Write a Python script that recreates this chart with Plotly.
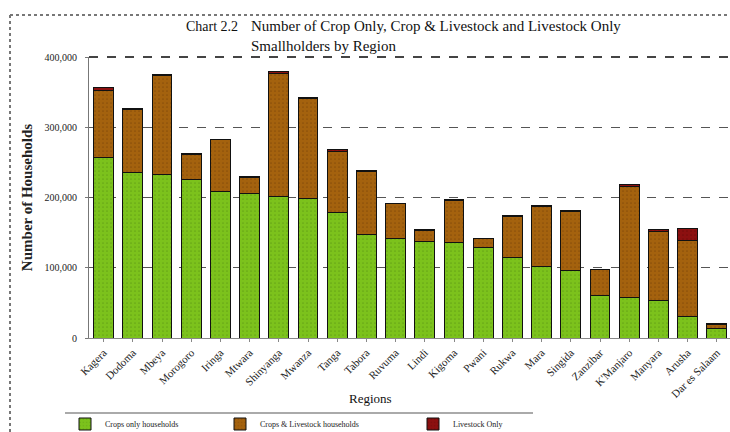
import plotly.graph_objects as go

regions = ["Kagera", "Dodoma", "Mbeya", "Morogoro", "Iringa", "Mtwara", "Shinyanga",
           "Mwanza", "Tanga", "Tabora", "Ruvuma", "Lindi", "Kigoma", "Pwani", "Rukwa",
           "Mara", "Singida", "Zanzibar", "K'Manjaro", "Manyara", "Arusha", "Dar es Salaam"]
crops_only = [257000, 235000, 233000, 226000, 208000, 205000, 202000, 199000, 179000, 148000,
              142000, 137000, 136000, 129000, 115000, 102000, 96000, 61000, 58000, 54000,
              30000, 14000]
crops_livestock = [96000, 90000, 141000, 35000, 74000, 24000, 175000, 142000, 87000, 89000,
                   49000, 16000, 60000, 12000, 58000, 85000, 84000, 36000, 158000, 98000,
                   109000, 5000]
livestock_only = [3000, 2000, 1000, 2000, 1000, 1000, 3000, 2000, 2000, 1000,
                  1000, 1000, 1000, 1000, 1000, 2000, 1000, 1000, 2000, 2000,
                  17000, 1000]
y_ticks = [0, 100000, 200000, 300000, 400000]
y_tick_labels = ["0", "100,000", "200,000", "300,000", "400,000"]

SERIF = "Liberation Serif, Times New Roman, serif"
W, H = 730, 432
L, R, T, B = 89, 0, 57, 94
PW, PH = W - L - R, H - T - B


def px(x):
    return (x - L) / PW


def py(y):
    return (H - B - y) / PH


fig = go.Figure()
series = [
    ("Crops only households", crops_only, "#7cc21c", "#4f8a10", "legend"),
    ("Crops & Livestock households", crops_livestock, "#a4620e", "#6e3c06", "legend2"),
    ("Livestock Only", livestock_only, "#8c1010", "#5a0808", "legend3"),
]
for name, vals, col, dot, leg in series:
    fig.add_trace(go.Bar(
        x=regions, y=vals, name=name, legend=leg,
        marker=dict(color=col, line=dict(color="#111111", width=1),
                    pattern=dict(shape=".", fgcolor=dot, size=4, solidity=0.15)),
    ))

leg_common = dict(orientation="h", xanchor="left", yanchor="middle",
                  font=dict(size=8), itemwidth=30, bgcolor="rgba(0,0,0,0)")
fig.update_layout(
    width=W, height=H,
    margin=dict(l=L, r=R, t=T, b=B, autoexpand=False),
    barmode="stack", bargap=0.32,
    plot_bgcolor="white", paper_bgcolor="white",
    font=dict(family=SERIF, size=10, color="#222222"),
    xaxis=dict(range=[-0.5, 21.45], tickangle=-45, showgrid=False, automargin=False,
               showline=True, linecolor="#888888", ticks="outside", ticklen=3,
               tickcolor="#888888", tickfont=dict(size=11)),
    yaxis=dict(range=[0, 400000], tickvals=y_ticks, ticktext=y_tick_labels, automargin=False,
               showgrid=True, gridcolor="#555555", griddash="dash", gridwidth=1,
               showline=True, linecolor="#777777", ticks="outside", ticklen=3,
               tickcolor="#777777", tickfont=dict(size=10), zeroline=False,
               ticklabelstandoff=6,
               title=dict(text="<b>Number of Households</b>", font=dict(size=15), standoff=8)),
    showlegend=True,
    legend=dict(x=px(65), y=py(424), **leg_common),
    legend2=dict(x=px(220), y=py(424), **leg_common),
    legend3=dict(x=px(413), y=py(424), **leg_common),
)

# title
fig.add_annotation(text="Chart 2.2", x=px(184), y=py(27), xref="paper", yref="paper",
                   xanchor="left", yanchor="middle", showarrow=False,
                   font=dict(size=14, family=SERIF, color="#111111"))
fig.add_annotation(text="Number of Crop Only, Crop &amp; Livestock and Livestock Only<br>Smallholders by Region",
                   x=px(249), y=py(36), xref="paper", yref="paper", align="left",
                   xanchor="left", yanchor="middle", showarrow=False,
                   font=dict(size=15, family=SERIF, color="#111111"))
# x axis title
fig.add_annotation(text="Regions", x=px(370), y=py(398), xref="paper", yref="paper",
                   xanchor="center", yanchor="middle", showarrow=False,
                   font=dict(size=13, family=SERIF, color="#111111"))

# outer dotted frame and legend separator
fig.add_shape(type="line", xref="paper", yref="paper", x0=px(10), x1=px(10), y0=py(15), y1=py(432),
              line=dict(color="#777777", width=2, dash="dot"))
fig.add_shape(type="line", xref="paper", yref="paper", x0=px(10), x1=px(730), y0=py(15), y1=py(15),
              line=dict(color="#777777", width=2, dash="dot"))
fig.add_shape(type="line", xref="paper", yref="paper", x0=px(65), x1=px(533), y0=py(413), y1=py(413),
              line=dict(color="#aaaaaa", width=2))
fig.add_shape(type="line", xref="paper", yref="paper", x0=0, x1=1, y0=1, y1=1,
              line=dict(color="#444444", width=2, dash="dash"))

fig.write_html("out.html", config={"displayModeBar": False},
               post_script="document.body.style.margin='0';document.body.style.padding='0';")
